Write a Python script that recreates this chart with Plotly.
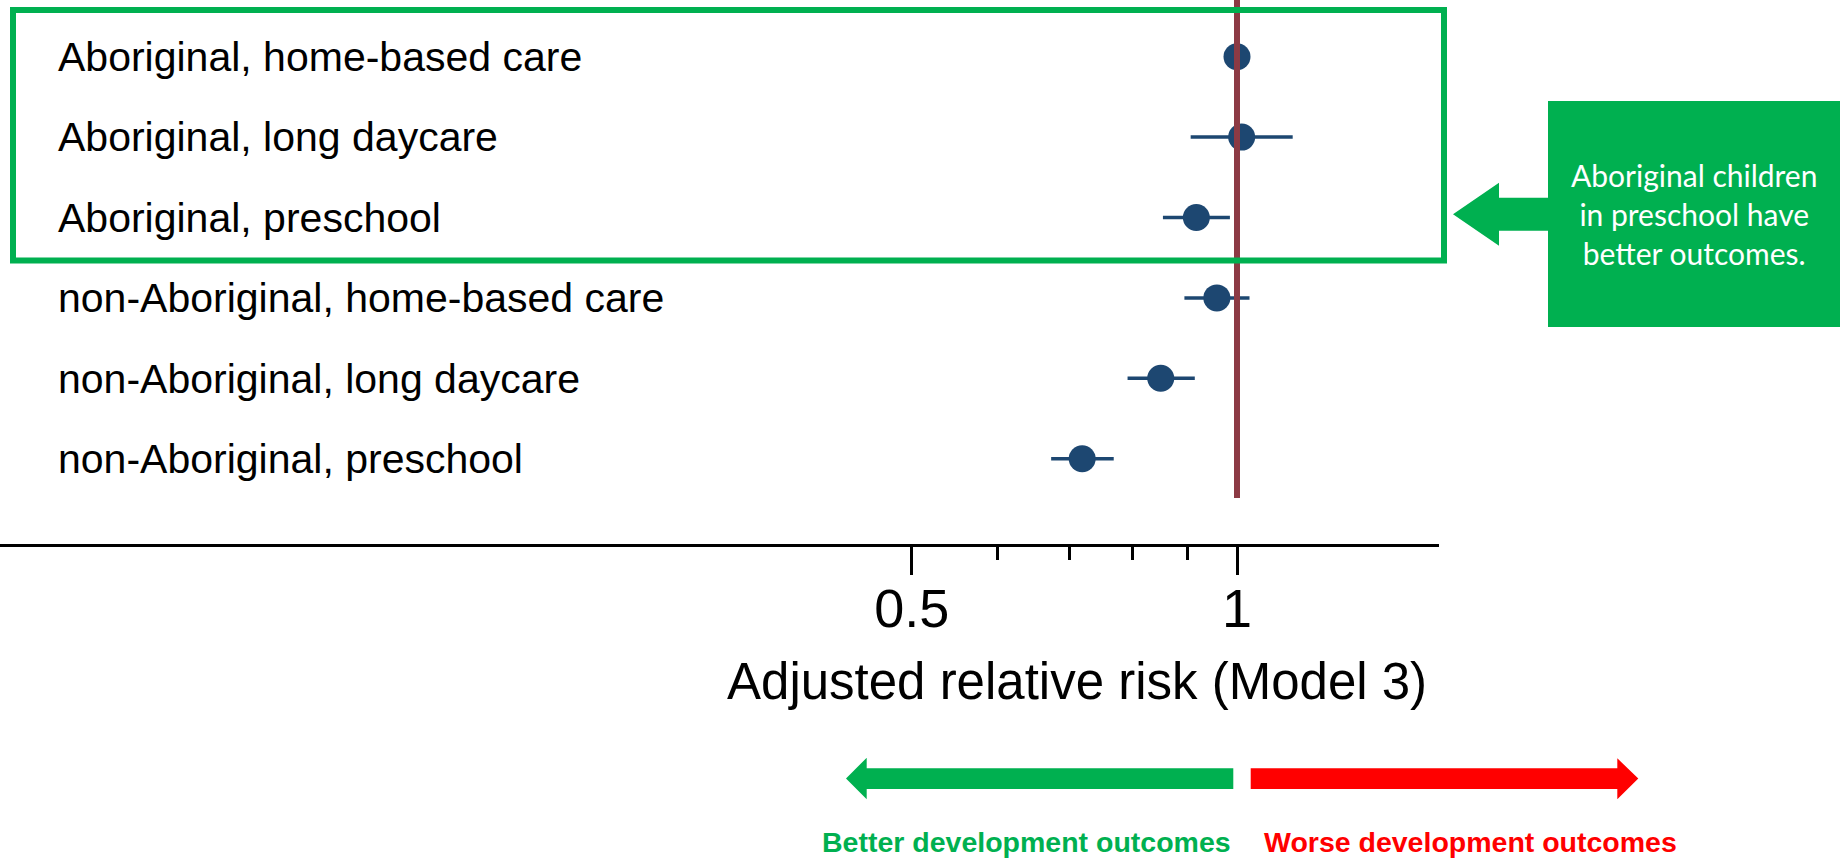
import math
import plotly.graph_objects as go

# ---------------- data ----------------
categories = [
    "Aboriginal, home-based care",
    "Aboriginal, long daycare",
    "Aboriginal, preschool",
    "non-Aboriginal, home-based care",
    "non-Aboriginal, long daycare",
    "non-Aboriginal, preschool",
]
rr = [1.000, 1.010, 0.917, 0.958, 0.850, 0.719]
ci_low = [0.985, 0.906, 0.854, 0.894, 0.792, 0.673]
ci_high = [1.015, 1.126, 0.985, 1.027, 0.914, 0.769]

x_tick_vals = [0.5, 1]
x_tick_text = ["0.5", "1"]
x_minor_vals = [0.6, 0.7, 0.8, 0.9]
x_title = "Adjusted relative risk (Model 3)"
callout_text = "Aboriginal children<br>in preschool have<br>better outcomes."
better_text = "Better development outcomes"
worse_text = "Worse development outcomes"

# ---------------- layout helpers (pixel -> paper) ----------------
W, H = 1845, 861
PL, PR, PT, PB = 0, 1439, 0, 544


def px(x):
    return (x - PL) / (PR - PL)


def py(y):
    return 1 - (y - PT) / (PB - PT)


def path(points):
    return "M " + " L ".join(f"{px(x):.5f},{py(y):.5f}" for x, y in points) + " Z"


GREEN = "#00B050"
RED = "#FF0000"
DOT = "#1D4771"
REFLINE = "#8C3A44"
FONT = "Liberation Sans, Arial, Helvetica, sans-serif"

err_plus = [h - v for h, v in zip(ci_high, rr)]
err_minus = [v - l for v, l in zip(rr, ci_low)]

fig = go.Figure()
fig.add_trace(
    go.Scatter(
        x=rr,
        y=categories,
        mode="markers",
        marker=dict(size=27, color=DOT),
        error_x=dict(
            type="data",
            symmetric=False,
            array=err_plus,
            arrayminus=err_minus,
            color=DOT,
            thickness=3.5,
            width=0,
        ),
        showlegend=False,
        hoverinfo="skip",
    )
)

# log-axis range from pixel calibration: x(1)=1237, x(0.5)=911.7
ppl10 = (1237 - 911.7) / math.log10(2)
x_range = [(-1237) / ppl10, (1439 - 1237) / ppl10]

shapes = [
    dict(type="line", xref="x", yref="paper", x0=1, x1=1, y0=py(498), y1=py(0),
         line=dict(color=REFLINE, width=6), layer="above"),
    dict(type="rect", xref="paper", yref="paper", x0=px(13), x1=px(1444),
         y0=py(260.5), y1=py(10), line=dict(color=GREEN, width=6), layer="above"),
    dict(type="rect", xref="paper", yref="paper", x0=px(1548), x1=px(1840),
         y0=py(327), y1=py(101), line=dict(width=0), fillcolor=GREEN, layer="above"),
    dict(type="path", xref="paper", yref="paper",
         path=path([(1453, 214.3), (1499, 182.7), (1499, 197.7), (1549, 197.7),
                    (1549, 230.7), (1499, 230.7), (1499, 245.7)]),
         fillcolor=GREEN, line=dict(width=0), layer="above"),
    dict(type="path", xref="paper", yref="paper",
         path=path([(846, 778.6), (866.7, 757.7), (866.7, 768.3), (1233.3, 768.3),
                    (1233.3, 789), (866.7, 789), (866.7, 799.3)]),
         fillcolor=GREEN, line=dict(width=0), layer="above"),
    dict(type="path", xref="paper", yref="paper",
         path=path([(1250.7, 768.3), (1617.3, 768.3), (1617.3, 758.3), (1638.3, 778.6),
                    (1617.3, 799.3), (1617.3, 789), (1250.7, 789)]),
         fillcolor=RED, line=dict(width=0), layer="above"),
]

annotations = [
    dict(text=x_title, xref="paper", yref="paper", x=px(1077), y=py(681),
         xanchor="center", yanchor="middle", showarrow=False,
         font=dict(family=FONT, size=51, color="black")),
    dict(text=callout_text, xref="paper", yref="paper", x=px(1694), y=py(214),
         xanchor="center", yanchor="middle", showarrow=False, align="center",
         font=dict(family="Lato, Open Sans, sans-serif", size=30, color="white")),
    dict(text=f"<b>{better_text}</b>", xref="paper", yref="paper", x=px(1026.4), y=py(860),
         xanchor="center", yanchor="bottom", showarrow=False,
         font=dict(family=FONT, size=28.5, color=GREEN)),
    dict(text=f"<b>{worse_text}</b>", xref="paper", yref="paper", x=px(1470), y=py(860),
         xanchor="center", yanchor="bottom", showarrow=False,
         font=dict(family=FONT, size=28.5, color=RED)),
]

fig.update_layout(
    width=W,
    height=H,
    autosize=False,
    margin=dict(l=PL, r=W - PR, t=PT, b=H - PB, pad=0),
    paper_bgcolor="white",
    plot_bgcolor="white",
    shapes=shapes,
    annotations=annotations,
    font=dict(family=FONT, color="black"),
    xaxis=dict(
        type="log",
        range=x_range,
        showgrid=False,
        zeroline=False,
        showline=True,
        linecolor="black",
        linewidth=3,
        ticks="outside",
        ticklen=28,
        tickwidth=2.5,
        tickcolor="black",
        tickmode="array",
        tickvals=x_tick_vals,
        ticktext=x_tick_text,
        ticklabelstandoff=-13,
        tickfont=dict(family=FONT, size=54, color="black"),
        minor=dict(tickmode="array", tickvals=x_minor_vals, ticks="outside",
                   ticklen=13, tickwidth=2.5, tickcolor="black", showgrid=False),
        fixedrange=True,
    ),
    yaxis=dict(
        type="category",
        categoryorder="array",
        categoryarray=categories,
        range=[(544 - 56.7) / 80.4, -56.7 / 80.4],
        showgrid=False,
        zeroline=False,
        showline=False,
        ticks="",
        ticklabelposition="inside",
        ticklabeloverflow="allow",
        ticklabelstandoff=55,
        tickfont=dict(family=FONT, size=41, color="black"),
        fixedrange=True,
    ),
)

fig.write_html("out.html", config={"displayModeBar": False},
               post_script="document.body.style.margin='0';document.body.style.overflow='hidden';")
